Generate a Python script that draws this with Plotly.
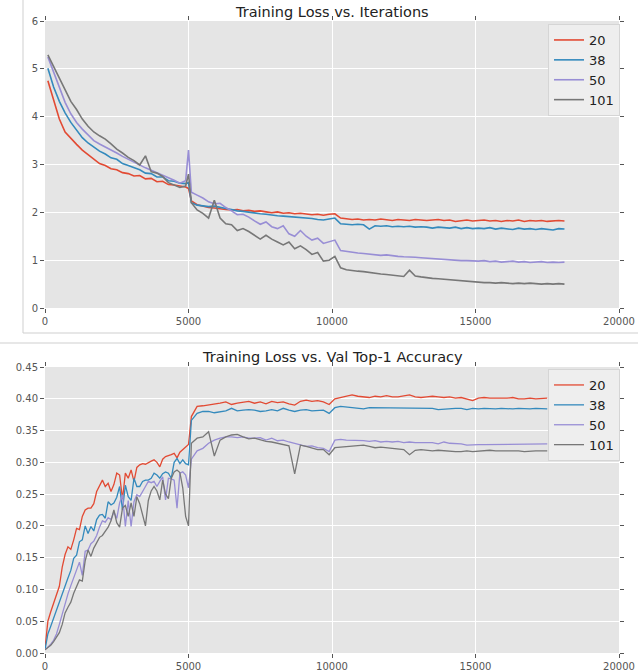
import plotly.graph_objects as go

# ---------------- data: training loss vs iterations ----------------
loss_iters = list(range(100, 5000, 200)) + [5000] + list(range(5100, 18101, 200))

loss_20 = [
    4.75, 4.36, 3.95, 3.68, 3.54, 3.42, 3.30, 3.20, 3.12, 3.02,
    2.98, 2.91, 2.89, 2.83, 2.81, 2.76, 2.77, 2.70, 2.71, 2.64,
    2.65, 2.58, 2.57, 2.55, 2.53,
    2.50,
    2.24, 2.16, 2.13, 2.10, 2.09, 2.07, 2.06, 2.05, 2.06, 2.03,
    2.04, 2.02, 2.03, 2.01, 1.99, 2.01, 1.98, 1.99, 1.97, 1.98,
    1.96, 1.95, 1.96, 1.94, 1.96, 1.97, 1.88, 1.86, 1.85, 1.86,
    1.84, 1.85, 1.84, 1.86, 1.84, 1.83, 1.85, 1.84, 1.83, 1.85,
    1.84, 1.83, 1.84, 1.85, 1.83, 1.84, 1.81, 1.83, 1.84, 1.82,
    1.83, 1.84, 1.82, 1.83, 1.81, 1.83, 1.82, 1.84, 1.81, 1.83,
    1.82, 1.83, 1.81, 1.82, 1.83, 1.82]

loss_38 = [
    5.01, 4.62, 4.32, 4.08, 3.88, 3.72, 3.56, 3.45, 3.36, 3.28,
    3.22, 3.14, 3.11, 3.02, 2.98, 2.93, 2.89, 2.82, 2.81, 2.74,
    2.74, 2.66, 2.65, 2.61, 2.60,
    2.62,
    2.20, 2.15, 2.13, 2.12, 2.13, 2.10, 2.08, 2.06, 2.03, 2.02,
    2.00, 1.98, 1.97, 1.96, 1.94, 1.93, 1.92, 1.91, 1.90, 1.90,
    1.88, 1.87, 1.85, 1.84, 1.86, 1.88, 1.76, 1.75, 1.74, 1.75,
    1.74, 1.65, 1.72, 1.71, 1.72, 1.70, 1.71, 1.70, 1.71, 1.69,
    1.70, 1.69, 1.67, 1.69, 1.68, 1.67, 1.69, 1.66, 1.68, 1.66,
    1.67, 1.66, 1.68, 1.65, 1.67, 1.66, 1.64, 1.67, 1.65, 1.66,
    1.64, 1.66, 1.65, 1.63, 1.66, 1.65]

loss_50 = [
    5.25, 4.92, 4.60, 4.30, 4.06, 3.88, 3.74, 3.62, 3.50, 3.43,
    3.37, 3.31, 3.24, 3.17, 3.11, 3.05, 2.98, 2.93, 2.88, 2.83,
    2.78, 2.72, 2.67, 2.61, 2.66,
    3.30,
    2.42, 2.36, 2.30, 2.22, 2.18, 2.19, 2.10, 2.03, 1.95, 1.96,
    1.90, 1.82, 1.75, 1.80, 1.70, 1.66, 1.72, 1.55, 1.50, 1.62,
    1.50, 1.42, 1.46, 1.35, 1.38, 1.42, 1.20, 1.18, 1.16, 1.15,
    1.14, 1.13, 1.12, 1.10, 1.11, 1.09, 1.08, 1.07, 1.07, 1.06,
    1.05, 1.04, 1.03, 1.02, 1.02, 1.01, 1.00, 0.99, 0.99, 0.98,
    0.98, 0.99, 0.97, 0.98, 0.96, 0.97, 0.98, 0.96, 0.97, 0.95,
    0.96, 0.97, 0.95, 0.96, 0.95, 0.96]

loss_101 = [
    5.29, 5.05, 4.80, 4.55, 4.32, 4.15, 3.95, 3.80, 3.68, 3.60,
    3.53, 3.43, 3.32, 3.24, 3.15, 3.08, 2.99, 3.18, 2.85, 2.82,
    2.75, 2.62, 2.57, 2.52, 2.55,
    2.80,
    2.20, 2.05, 1.98, 1.88, 2.25, 1.88, 1.76, 1.74, 1.62, 1.66,
    1.60, 1.52, 1.44, 1.52, 1.44, 1.38, 1.32, 1.38, 1.24, 1.30,
    1.22, 1.12, 1.16, 0.98, 1.00, 1.08, 0.84, 0.80, 0.78, 0.77,
    0.76, 0.74, 0.73, 0.71, 0.70, 0.69, 0.68, 0.66, 0.79, 0.67,
    0.65, 0.63, 0.62, 0.61, 0.60, 0.58, 0.57, 0.56, 0.55, 0.55,
    0.54, 0.53, 0.53, 0.52, 0.53, 0.52, 0.51, 0.52, 0.51, 0.52,
    0.51, 0.50, 0.51, 0.50, 0.51, 0.50]

# ---------------- data: val top-1 accuracy vs iterations ----------------
acc_iters = list(range(0, 5000, 100)) + [5000] + list(range(5100, 17501, 200))

acc_20 = [
    0.007, 0.050, 0.065, 0.078, 0.090, 0.105, 0.135, 0.155, 0.167, 0.163,
    0.178, 0.196, 0.194, 0.215, 0.225, 0.228, 0.228, 0.235, 0.254, 0.262,
    0.272, 0.262, 0.267, 0.254, 0.265, 0.283, 0.280, 0.242, 0.283, 0.275,
    0.288, 0.270, 0.292, 0.296, 0.298, 0.297, 0.300, 0.302, 0.304, 0.300,
    0.293, 0.305, 0.309, 0.310, 0.312, 0.314, 0.307, 0.316, 0.320, 0.325,
    0.328,
    0.372, 0.388, 0.389, 0.390, 0.392, 0.393, 0.395, 0.391, 0.393, 0.394,
    0.396, 0.393, 0.395, 0.392, 0.396, 0.394, 0.395, 0.392, 0.390, 0.396,
    0.398, 0.396, 0.397, 0.395, 0.391, 0.400, 0.402, 0.403, 0.406, 0.404,
    0.403, 0.402, 0.404, 0.403, 0.405, 0.403, 0.403, 0.405, 0.406, 0.403,
    0.402, 0.403, 0.404, 0.403, 0.402, 0.403, 0.401, 0.402, 0.400, 0.397,
    0.401, 0.402, 0.401, 0.401, 0.400, 0.401, 0.402, 0.400, 0.400, 0.401,
    0.400, 0.401, 0.401]

acc_38 = [
    0.005, 0.030, 0.042, 0.055, 0.066, 0.080, 0.095, 0.105, 0.118, 0.130,
    0.149, 0.154, 0.175, 0.178, 0.200, 0.188, 0.199, 0.192, 0.210, 0.217,
    0.218, 0.212, 0.238, 0.233, 0.236, 0.245, 0.262, 0.225, 0.264, 0.246,
    0.240, 0.275, 0.262, 0.262, 0.270, 0.272, 0.272, 0.275, 0.283, 0.280,
    0.275, 0.282, 0.285, 0.283, 0.275, 0.300, 0.306, 0.298, 0.304, 0.298,
    0.296,
    0.366, 0.377, 0.380, 0.380, 0.378, 0.380, 0.381, 0.385, 0.381, 0.382,
    0.383, 0.382, 0.380, 0.381, 0.383, 0.381, 0.385, 0.382, 0.380, 0.382,
    0.383, 0.381, 0.382, 0.382, 0.377, 0.386, 0.388, 0.387, 0.386, 0.385,
    0.384, 0.386, 0.386, 0.385, 0.386, 0.385, 0.386, 0.385, 0.386, 0.385,
    0.385, 0.386, 0.385, 0.383, 0.384, 0.385, 0.385, 0.385, 0.383, 0.385,
    0.384, 0.385, 0.384, 0.384, 0.385, 0.384, 0.384, 0.385, 0.384, 0.384,
    0.385, 0.384, 0.384]

acc_50 = [
    0.005, 0.009, 0.014, 0.020, 0.030, 0.045, 0.062, 0.078, 0.093, 0.106,
    0.118, 0.128, 0.143, 0.122, 0.160, 0.162, 0.172, 0.176, 0.185, 0.198,
    0.208, 0.206, 0.213, 0.210, 0.222, 0.212, 0.236, 0.249, 0.199, 0.240,
    0.199, 0.238, 0.249, 0.246, 0.255, 0.262, 0.270, 0.268, 0.270, 0.262,
    0.270, 0.277, 0.241, 0.275, 0.274, 0.272, 0.228, 0.283, 0.285, 0.280,
    0.260,
    0.305, 0.318, 0.322, 0.330, 0.335, 0.338, 0.340, 0.340, 0.339, 0.340,
    0.338, 0.338, 0.339, 0.335, 0.338, 0.334, 0.335, 0.332, 0.330, 0.327,
    0.325, 0.326, 0.323, 0.322, 0.317, 0.335, 0.336, 0.335, 0.335, 0.334,
    0.334, 0.333, 0.334, 0.332, 0.333, 0.332, 0.333, 0.331, 0.332, 0.331,
    0.331, 0.330, 0.331, 0.329, 0.332, 0.330, 0.330, 0.329, 0.327, 0.328,
    0.328, 0.328, 0.328, 0.329, 0.328, 0.328, 0.329, 0.328, 0.328, 0.329,
    0.328, 0.329, 0.329]

acc_101 = [
    0.005, 0.008, 0.012, 0.018, 0.025, 0.032, 0.045, 0.063, 0.072, 0.080,
    0.094, 0.105, 0.115, 0.113, 0.145, 0.162, 0.152, 0.165, 0.173, 0.182,
    0.185, 0.192, 0.198, 0.208, 0.225, 0.205, 0.198, 0.228, 0.232, 0.215,
    0.236, 0.215, 0.246, 0.235, 0.215, 0.200, 0.240, 0.255, 0.262, 0.255,
    0.241, 0.272, 0.250, 0.243, 0.275, 0.285, 0.288, 0.284, 0.260, 0.215,
    0.200,
    0.330, 0.338, 0.340, 0.348, 0.310, 0.335, 0.340, 0.343, 0.344, 0.340,
    0.337, 0.338, 0.335, 0.333, 0.332, 0.330, 0.328, 0.326, 0.282, 0.327,
    0.325, 0.322, 0.320, 0.320, 0.312, 0.323, 0.324, 0.325, 0.326, 0.327,
    0.327, 0.325, 0.323, 0.324, 0.323, 0.323, 0.322, 0.320, 0.312, 0.319,
    0.320, 0.319, 0.318, 0.319, 0.318, 0.317, 0.317, 0.317, 0.318, 0.317,
    0.318, 0.318, 0.319, 0.318, 0.318, 0.319, 0.318, 0.318, 0.317, 0.318,
    0.318, 0.318, 0.318]

series_names = ["20", "38", "50", "101"]
series_colors = ["#E24A33", "#348ABD", "#988ED5", "#777777"]
loss_series = [loss_20, loss_38, loss_50, loss_101]
acc_series = [acc_20, acc_38, acc_50, acc_101]

x_ticks = [0, 5000, 10000, 15000, 20000]
x_tick_labels = ["0", "5000", "10000", "15000", "20000"]
loss_ticks = [0, 1, 2, 3, 4, 5, 6]
acc_ticks = [0.00, 0.05, 0.10, 0.15, 0.20, 0.25, 0.30, 0.35, 0.40, 0.45]

for s in loss_series:
    assert len(s) == len(loss_iters), len(s)
for s in acc_series:
    assert len(s) == len(acc_iters), len(s)

# ---------------- figure ----------------
W, H = 638, 672
FONT = "DejaVu Sans"
TICK_COLOR = "#555555"

fig = go.Figure()
for name, color, ys in zip(series_names, series_colors, loss_series):
    fig.add_trace(go.Scatter(x=loss_iters, y=ys, mode="lines", name=name,
                             line=dict(color=color, width=1.6),
                             xaxis="x", yaxis="y", legend="legend"))
for name, color, ys in zip(series_names, series_colors, acc_series):
    fig.add_trace(go.Scatter(x=acc_iters, y=ys, mode="lines", name=name,
                             line=dict(color=color, width=1.3),
                             xaxis="x2", yaxis="y2", legend="legend2"))

def px_x(p):
    return p / W

def px_y(p):
    return 1 - p / H

axis_common = dict(
    showgrid=True, gridcolor="#FFFFFF", gridwidth=1,
    zeroline=False, showline=False, automargin=False,
    ticks="outside", ticklen=4, tickwidth=1, tickcolor=TICK_COLOR,
    mirror="ticks",
    tickfont=dict(family=FONT, size=10, color=TICK_COLOR),
)

legend_common = dict(
    xanchor="left", yanchor="top",
    bgcolor="#EEEEEE", bordercolor="#D5D5D5", borderwidth=1,
    font=dict(family=FONT, size=13, color="#222222"),
    itemwidth=30, entrywidth=30, entrywidthmode="pixels",
)

x_dom = [px_x(45), px_x(619)]
fig.update_layout(
    width=W, height=H,
    margin=dict(l=0, r=0, t=0, b=0, pad=0, autoexpand=False),
    paper_bgcolor="#FFFFFF",
    plot_bgcolor="#E5E5E5",
    font=dict(family=FONT, color="#222222"),
    xaxis=dict(domain=x_dom, anchor="y", range=[0, 20000], tickvals=x_ticks,
               ticktext=x_tick_labels, **axis_common),
    yaxis=dict(domain=[px_y(308), px_y(21)], anchor="x", range=[0, 6],
               tickvals=loss_ticks, **axis_common),
    xaxis2=dict(domain=x_dom, anchor="y2", range=[0, 20000], tickvals=x_ticks,
                ticktext=x_tick_labels, **axis_common),
    yaxis2=dict(domain=[px_y(653), px_y(367)], anchor="x2", range=[0, 0.45],
                tickvals=acc_ticks, tickformat=".2f", **axis_common),
    legend=dict(x=px_x(548), y=px_y(24), **legend_common),
    legend2=dict(x=px_x(548), y=px_y(369), **legend_common),
    annotations=[
        dict(text="Training Loss vs. Iterations", x=px_x(332), y=px_y(12),
             xref="paper", yref="paper", showarrow=False, xanchor="center", yanchor="middle",
             font=dict(family=FONT, size=14.5, color="#222222")),
        dict(text="Training Loss vs. Val Top-1 Accuracy", x=px_x(332), y=px_y(357),
             xref="paper", yref="paper", showarrow=False, xanchor="center", yanchor="middle",
             font=dict(family=FONT, size=14.5, color="#222222")),
    ],
    shapes=[
        dict(type="line", xref="paper", yref="paper", x0=px_x(23), x1=px_x(23),
             y0=1, y1=px_y(333), line=dict(color="#CFCFCF", width=1)),
        dict(type="line", xref="paper", yref="paper", x0=px_x(23), x1=1,
             y0=px_y(333), y1=px_y(333), line=dict(color="#CFCFCF", width=1)),
        dict(type="line", xref="paper", yref="paper", x0=0, x1=1,
             y0=px_y(343), y1=px_y(343), line=dict(color="#CFCFCF", width=1)),
    ],
)

fig.write_html(
    "out.html",
    config={"displayModeBar": False},
    post_script="document.body.style.margin='0';document.body.style.padding='0';"
                "document.documentElement.style.overflow='hidden';",
)
